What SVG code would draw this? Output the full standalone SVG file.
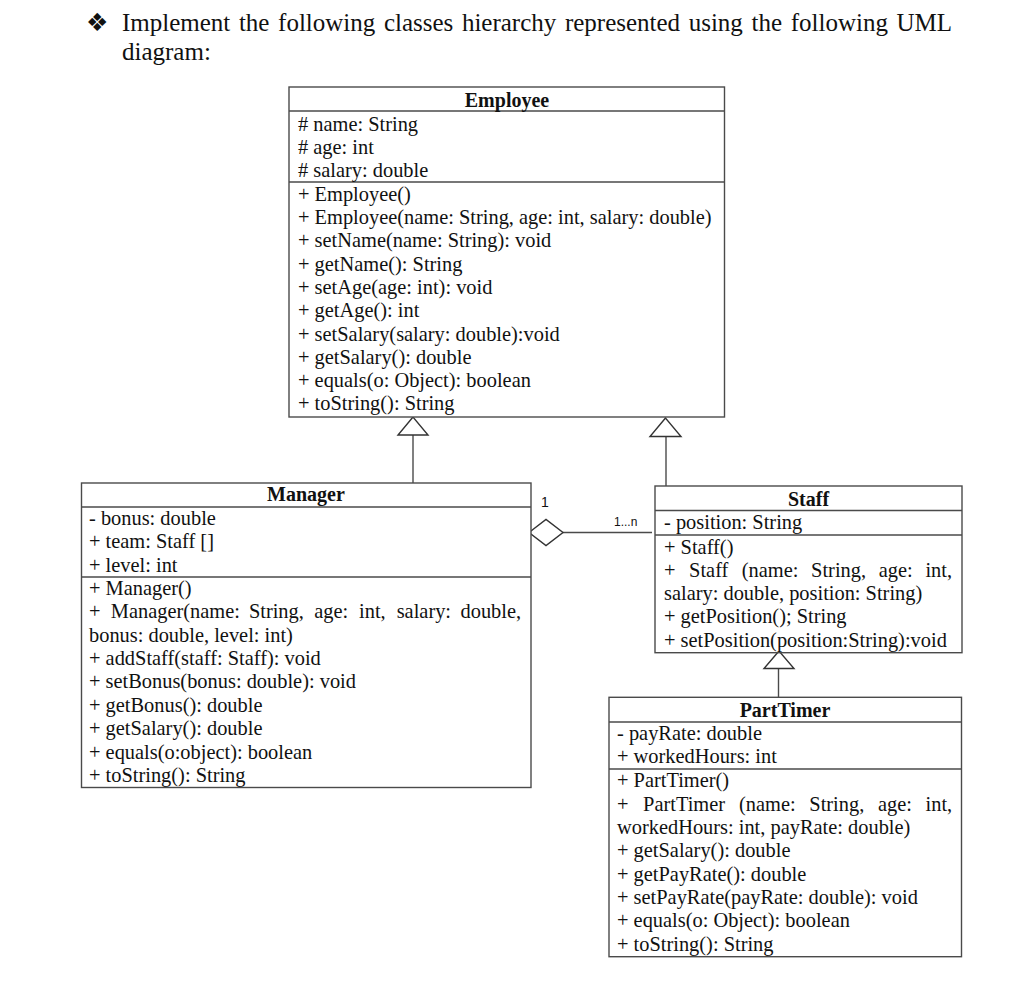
<svg xmlns="http://www.w3.org/2000/svg" width="1024" height="990" viewBox="0 0 1024 990">
<style>
text{font-family:"Liberation Serif","Times New Roman",serif;fill:#111;}
.t{font-size:20.4px;}
.b{font-size:20px;font-weight:bold;text-anchor:middle;}
.h{font-size:25px;}
.s{font-family:"Liberation Sans",Arial,sans-serif;font-size:12px;}
.box{fill:#fff;stroke:#4a4a4a;stroke-width:1.4;}
.ln{stroke:#4a4a4a;stroke-width:1.4;fill:none;}
.tri{fill:#fff;stroke:#333;stroke-width:1.4;}
</style>
<rect width="1024" height="990" fill="#fff"/>
<g id="header">
<text x="86" y="31" style="font-family:'DejaVu Sans',sans-serif;font-size:25px;">❖</text>
<text class="h" y="31"><tspan x="122">Implement</tspan><tspan x="238.9">the</tspan><tspan x="278.1">following</tspan><tspan x="383.9">classes</tspan><tspan x="461.9">hierarchy</tspan><tspan x="564.9">represented</tspan><tspan x="688.7">using</tspan><tspan x="751.5">the</tspan><tspan x="790.7">following</tspan><tspan x="896.5">UML</tspan></text>
<text class="h" x="122" y="60">diagram:</text>
</g>
<g id="connectors">
<line class="ln" x1="413" y1="435" x2="413" y2="483"/>
<polygon class="tri" points="413,417 398,435 428,435"/>
<line class="ln" x1="666" y1="436" x2="666" y2="486"/>
<polygon class="tri" points="665.5,418 650,436.5 681,436.5"/>
<line class="ln" x1="778.5" y1="668" x2="778.5" y2="697"/>
<polygon class="tri" points="779,651 764,668.5 794,668.5"/>
<line class="ln" x1="563" y1="532.5" x2="652" y2="532.5"/>
<polygon class="tri" points="529,532.5 546,519.5 563,532.5 546,545.5"/>
<text class="s" x="541" y="507" style="font-size:14px">1</text>
<text class="s" x="614" y="526">1...n</text>
</g>
<g id="employee">
<rect class="box" x="289" y="87" width="435.5" height="330"/>
<line class="ln" x1="289" y1="111" x2="724.5" y2="111"/>
<line class="ln" x1="289" y1="182" x2="724.5" y2="182"/>
<text class="b" x="507" y="107">Employee</text>
<text class="t" x="298" y="130.5"># name: String</text>
<text class="t" x="298" y="153.8"># age: int</text>
<text class="t" x="298" y="177"># salary: double</text>
<text class="t" x="298" y="200.7">+ Employee()</text>
<text class="t" x="298" y="224">+ Employee(name: String, age: int, salary: double)</text>
<text class="t" x="298" y="247.3">+ setName(name: String): void</text>
<text class="t" x="298" y="270.6">+ getName(): String</text>
<text class="t" x="298" y="293.9">+ setAge(age: int): void</text>
<text class="t" x="298" y="317.2">+ getAge(): int</text>
<text class="t" x="298" y="340.5">+ setSalary(salary: double):void</text>
<text class="t" x="298" y="363.8">+ getSalary(): double</text>
<text class="t" x="298" y="387.1">+ equals(o: Object): boolean</text>
<text class="t" x="298" y="410.4">+ toString(): String</text>
</g>
<g id="manager">
<rect class="box" x="81.5" y="483" width="449.5" height="304.5"/>
<line class="ln" x1="81.5" y1="507" x2="531" y2="507"/>
<line class="ln" x1="81.5" y1="577" x2="531" y2="577"/>
<text class="b" x="306" y="501">Manager</text>
<text class="t" x="89" y="525">- bonus: double</text>
<text class="t" x="89" y="548.3">+ team: Staff []</text>
<text class="t" x="89" y="571.6">+ level: int</text>
<text class="t" x="89" y="595">+ Manager()</text>
<text class="t" y="618.3"><tspan x="89">+</tspan><tspan x="110.8">Manager(name:</tspan><tspan x="248.9">String,</tspan><tspan x="314.3">age:</tspan><tspan x="359.1">int,</tspan><tspan x="396.7">salary:</tspan><tspan x="460.5">double,</tspan></text>
<text class="t" x="89" y="641.7">bonus: double, level: int)</text>
<text class="t" x="89" y="665">+ addStaff(staff: Staff): void</text>
<text class="t" x="89" y="688.3">+ setBonus(bonus: double): void</text>
<text class="t" x="89" y="711.7">+ getBonus(): double</text>
<text class="t" x="89" y="735.2">+ getSalary(): double</text>
<text class="t" x="89" y="758.6">+ equals(o:object): boolean</text>
<text class="t" x="89" y="782">+ toString(): String</text>
</g>
<g id="staff">
<rect class="box" x="655" y="486" width="307" height="166.7"/>
<line class="ln" x1="655" y1="510.5" x2="962" y2="510.5"/>
<line class="ln" x1="655" y1="535" x2="962" y2="535"/>
<text class="b" x="808.5" y="506">Staff</text>
<text class="t" x="664" y="529">- position: String</text>
<text class="t" x="664" y="553.5">+ Staff()</text>
<text class="t" y="576.8"><tspan x="664">+</tspan><tspan x="689.1">Staff</tspan><tspan x="741.8">(name:</tspan><tspan x="811.1">String,</tspan><tspan x="878.8">age:</tspan><tspan x="925.4">int,</tspan></text>
<text class="t" x="664" y="600">salary: double, position: String)</text>
<text class="t" x="664" y="623.3">+ getPosition(); String</text>
<text class="t" x="664" y="646.6">+ setPosition(position:String):void</text>
</g>
<g id="parttimer">
<rect class="box" x="609" y="697.3" width="352.5" height="259.4"/>
<line class="ln" x1="609" y1="722" x2="961.5" y2="722"/>
<line class="ln" x1="609" y1="769" x2="961.5" y2="769"/>
<text class="b" x="785" y="716.5">PartTimer</text>
<text class="t" x="617" y="740">- payRate: double</text>
<text class="t" x="617" y="763.3">+ workedHours: int</text>
<text class="t" x="617" y="787">+ PartTimer()</text>
<text class="t" y="810.5"><tspan x="617">+</tspan><tspan x="643.1">PartTimer</tspan><tspan x="739">(name:</tspan><tspan x="809.3">String,</tspan><tspan x="878">age:</tspan><tspan x="925.6">int,</tspan></text>
<text class="t" x="617" y="834">workedHours: int, payRate: double)</text>
<text class="t" x="617" y="857.3">+ getSalary(): double</text>
<text class="t" x="617" y="880.7">+ getPayRate(): double</text>
<text class="t" x="617" y="904">+ setPayRate(payRate: double): void</text>
<text class="t" x="617" y="927.3">+ equals(o: Object): boolean</text>
<text class="t" x="617" y="950.7">+ toString(): String</text>
</g>
</svg>
